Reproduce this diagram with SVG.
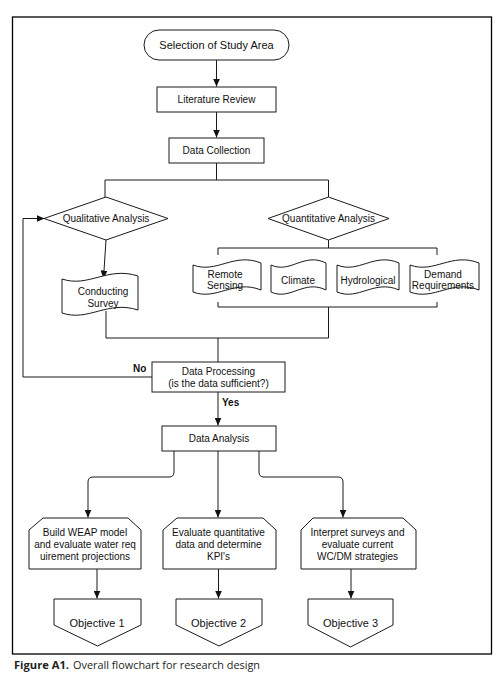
<svg xmlns="http://www.w3.org/2000/svg" width="503" height="685" viewBox="0 0 503 685">
<defs>
<style>
.s{fill:#fff;stroke:#1a1a1a;stroke-width:1}
.c{fill:none;stroke:#1a1a1a;stroke-width:1}
.t{font-family:"Liberation Sans",Arial,sans-serif;font-size:10px;fill:#111;text-anchor:middle}
.b{font-weight:bold;text-anchor:start}
.o{font-size:11px}
</style>
<marker id="ah" markerUnits="userSpaceOnUse" markerWidth="9" markerHeight="7" refX="8" refY="3.5" orient="auto">
<path d="M0,0 L8,3.5 L0,7 Z" fill="#111"/>
</marker>
</defs>
<rect width="503" height="685" fill="#fff"/>
<rect x="12.5" y="17" width="479" height="637" fill="none" stroke="#000" stroke-width="1.3"/>

<g id="connectors">
<path class="c" d="M216.5,60 V86.5" marker-end="url(#ah)"/>
<path class="c" d="M216.5,112 V137.5" marker-end="url(#ah)"/>
<path class="c" d="M216.5,163 V180 M105,197 V180 H328.5 V197"/>
<path class="c" d="M106,240 L103.5,278.5" marker-end="url(#ah)"/>
<path class="c" d="M328.5,240 V248 M218,255 V248 H437 V255"/>
<path class="c" d="M218,302 V307 H437 V302 M328.5,307 V338 M106,311 V338 H328.5 M218,338 V362"/>
<path class="c" d="M152,377 H23 V218.5 H44.5" marker-end="url(#ah)"/>
<path class="c" d="M218,392 V425.5" marker-end="url(#ah)"/>
<path class="c" d="M174,451 V472 Q174,477 169,477 H93 Q88,477 88,482 V517.5" marker-end="url(#ah)"/>
<path class="c" d="M218,451 V517.5" marker-end="url(#ah)"/>
<path class="c" d="M259,451 V472 Q259,477 264,477 H338 Q343,477 343,482 V517.5" marker-end="url(#ah)"/>
<path class="c" d="M97,569 V598.5" marker-end="url(#ah)"/>
<path class="c" d="M218.5,569 V598.5" marker-end="url(#ah)"/>
<path class="c" d="M351,569 V598.5" marker-end="url(#ah)"/>
<text class="t b" x="133" y="371.5">No</text>
<text class="t b" x="222" y="405.5">Yes</text>
</g>

<g id="start">
<rect class="s" x="144" y="30" width="145" height="30" rx="15"/>
<text class="t o" x="216.5" y="49">Selection of Study Area</text>
</g>
<g id="literature">
<rect class="s" x="157" y="87" width="119" height="25"/>
<text class="t" x="216.5" y="103">Literature Review</text>
</g>
<g id="collection">
<rect class="s" x="169" y="138" width="95" height="25"/>
<text class="t" x="216.5" y="154">Data Collection</text>
</g>
<g id="qualitative">
<path class="s" d="M44,218.5 L106,197 L168,218.5 L106,240 Z"/>
<text class="t" x="106" y="222">Qualitative Analysis</text>
</g>
<g id="quantitative">
<path class="s" d="M268,218.5 L328.5,197 L389,218.5 L328.5,240 Z"/>
<text class="t" x="328.5" y="222">Quantitative Analysis</text>
</g>
<g id="survey">
<path class="s" d="M62,279 C88.6,288 107.6,266 138,276 L138,310 C107.6,300 88.6,322 62,313 Z"/>
<text class="t" x="103" y="295">Conducting</text>
<text class="t" x="103" y="307">Survey</text>
</g>
<g id="remote">
<path class="s" d="M193,265 C216.8,274 233.8,252 261,263 L261,290 C233.8,279 216.8,301 193,292 Z"/>
<text class="t" x="225" y="277.5">Remote</text>
<text class="t" x="225" y="289">Sensing</text>
</g>
<g id="climate">
<path class="s" d="M271,265 C290.3,274 304,252 326,263 L326,290 C304,279 290.3,301 271,292 Z"/>
<text class="t" x="298" y="283.5">Climate</text>
</g>
<g id="hydrological">
<path class="s" d="M337,265 C358.7,274 374.2,252 399,263 L399,290 C374.2,279 358.7,301 337,292 Z"/>
<text class="t" x="368" y="283.5">Hydrological</text>
</g>
<g id="demand">
<path class="s" d="M410,265 C434.2,274 451.4,252 479,263 L479,290 C451.4,279 434.2,301 410,292 Z"/>
<text class="t" x="443" y="277.5">Demand</text>
<text class="t" x="443" y="289">Requirements</text>
</g>
<g id="processing">
<rect class="s" x="152" y="362" width="133" height="30"/>
<text class="t" x="218.5" y="374.5">Data Processing</text>
<text class="t" x="218.5" y="386.5">(is the data sufficient?)</text>
</g>
<g id="analysis">
<rect class="s" x="162" y="426" width="114" height="25"/>
<text class="t" x="219" y="442">Data Analysis</text>
</g>
<g id="weap">
<path class="s" d="M29,530 L43,518 L128,518 L141,530 L141,569 L29,569 Z"/>
<text class="t" x="85" y="535.5">Build WEAP model</text>
<text class="t" x="85" y="547.5">and evaluate water req</text>
<text class="t" x="85" y="559.5">uirement projections</text>
</g>
<g id="kpi">
<path class="s" d="M163,530 L177,518 L263,518 L276,530 L276,569 L163,569 Z"/>
<text class="t" x="218.5" y="535.5">Evaluate quantitative</text>
<text class="t" x="218.5" y="547.5">data and determine</text>
<text class="t" x="218.5" y="559.5">KPI's</text>
</g>
<g id="wcdm">
<path class="s" d="M301,530 L313,518 L403,518 L416,530 L416,569 L301,569 Z"/>
<text class="t" x="357.5" y="535.5">Interpret surveys and</text>
<text class="t" x="357.5" y="547.5">evaluate current</text>
<text class="t" x="357.5" y="559.5">WC/DM strategies</text>
</g>
<g id="obj1">
<path class="s" d="M54,599 L141,599 L141,625 L97.5,646 L54,625 Z"/>
<text class="t o" x="97" y="627">Objective 1</text>
</g>
<g id="obj2">
<path class="s" d="M176,599 L262,599 L262,625 L219,646 L176,625 Z"/>
<text class="t o" x="218.5" y="627">Objective 2</text>
</g>
<g id="obj3">
<path class="s" d="M308,599 L393,599 L393,625 L350.5,647 L308,625 Z"/>
<text class="t o" x="350.5" y="627">Objective 3</text>
</g>

<g id="caption" font-family="'Open Sans','Noto Sans',sans-serif" font-size="11" fill="#231f20">
<text x="14" y="669" font-weight="bold" textLength="55" lengthAdjust="spacingAndGlyphs">Figure A1.</text>
<text x="73" y="669" textLength="187" lengthAdjust="spacingAndGlyphs">Overall flowchart for research design</text>
</g>
</svg>
